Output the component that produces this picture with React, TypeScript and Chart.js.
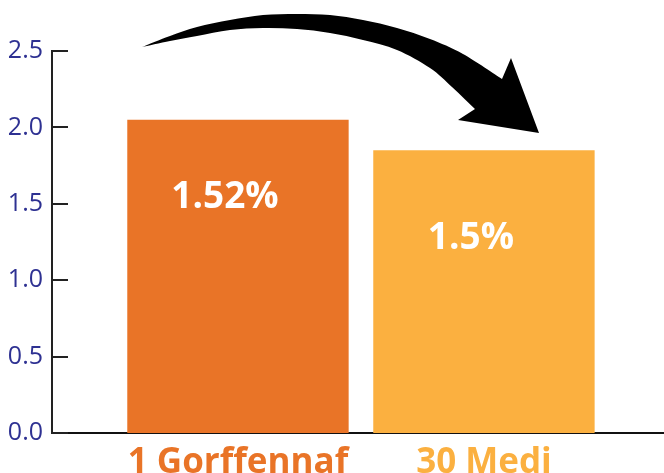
import React, { useEffect, useRef } from 'react';
import { Chart, registerables } from 'chart.js';

Chart.register(...registerables);

const categories = ['1 Gorffennaf', '30 Medi'];
const values = [2.05, 1.85];
const valueLabels = ['1.52%', '1.5%'];
const barColors = ['#E97427', '#FBB040'];
const yTickValues = [0, 0.5, 1, 1.5, 2, 2.5];
const xRange = [-0.756, 1.732];

const insideTicks = {
  id: 'insideTicks',
  afterDraw(chart: any) {
    const { ctx, chartArea, scales } = chart;
    const y = scales.y;
    ctx.save();
    ctx.strokeStyle = '#222';
    ctx.lineWidth = 2;
    yTickValues.forEach((v) => {
      const py = Math.round(y.getPixelForValue(v));
      ctx.beginPath();
      ctx.moveTo(chartArea.left, py);
      ctx.lineTo(chartArea.left + 16, py);
      ctx.stroke();
    });
    ctx.restore();
  },
};

const valueLabelPlugin = {
  id: 'valueLabels',
  afterDatasetsDraw(chart: any) {
    const { ctx } = chart;
    const meta = chart.getDatasetMeta(0);
    const dy = [78, 88];
    ctx.save();
    ctx.font = 'bold 37px "Open Sans"';
    ctx.fillStyle = '#ffffff';
    ctx.textAlign = 'center';
    ctx.textBaseline = 'middle';
    meta.data.forEach((bar: any, i: number) => {
      ctx.fillText(valueLabels[i], bar.x - 13, bar.y + dy[i]);
    });
    ctx.restore();
  },
};

function smoothThrough(ctx: any, pts: number[][], first: boolean) {
  if (first) ctx.moveTo(pts[0][0], pts[0][1]);
  else ctx.lineTo(pts[0][0], pts[0][1]);
  for (let i = 0; i < pts.length - 1; i++) {
    const p0 = pts[Math.max(0, i - 1)];
    const p1 = pts[i];
    const p2 = pts[i + 1];
    const p3 = pts[Math.min(pts.length - 1, i + 2)];
    ctx.bezierCurveTo(
      p1[0] + (p2[0] - p0[0]) / 6,
      p1[1] + (p2[1] - p0[1]) / 6,
      p2[0] - (p3[0] - p1[0]) / 6,
      p2[1] - (p3[1] - p1[1]) / 6,
      p2[0],
      p2[1]
    );
  }
}

const arrowPlugin = {
  id: 'arrow',
  afterDraw(chart: any) {
    const { ctx } = chart;
    const upper = [
      [142, 47], [170, 36], [197, 27], [230, 20], [263, 15], [297, 14], [330, 15],
      [363, 20], [397, 28], [430, 39], [463, 54], [502, 79],
    ];
    const lower = [
      [475, 109], [452, 87], [430, 68], [397, 50], [363, 40], [330, 33], [297, 29],
      [263, 28], [230, 30], [197, 36], [170, 41], [142, 47],
    ];
    ctx.save();
    ctx.fillStyle = '#000';
    ctx.beginPath();
    smoothThrough(ctx, upper, true);
    ctx.lineTo(511, 58);
    ctx.lineTo(539, 133);
    ctx.lineTo(458, 120);
    smoothThrough(ctx, lower, false);
    ctx.closePath();
    ctx.fill();
    ctx.restore();
  },
};

export default function App() {
  const ref = useRef<HTMLCanvasElement>(null);
  useEffect(() => {
    if (!ref.current) return;
    const chart = new Chart(ref.current, {
      type: 'bar',
      data: {
        datasets: [
          {
            data: values.map((v, i) => ({ x: i, y: v })),
            backgroundColor: barColors,
            borderWidth: 0,
            categoryPercentage: 1,
            barPercentage: 0.9,
          },
        ],
      },
      options: {
        responsive: false,
        animation: false,
        events: [],
        layout: { padding: { top: 51, left: 0, right: 0, bottom: 0 } },
        plugins: { legend: { display: false }, tooltip: { enabled: false } },
        scales: {
          x: {
            type: 'linear',
            bounds: 'data',
            offset: false,
            min: xRange[0],
            max: xRange[1],
            afterDataLimits: (scale: any) => {
              scale.min = xRange[0];
              scale.max = xRange[1];
            },
            afterBuildTicks: (scale: any) => {
              scale.ticks = categories.map((_, i) => ({ value: i }));
              scale.min = xRange[0];
              scale.max = xRange[1];
            },
            afterFit: (scale: any) => {
              scale.height = 40;
              scale.paddingLeft = 0;
              scale.paddingRight = 0;
            },
            grid: { display: false, drawTicks: false, offset: false },
            border: { display: true, color: '#111', width: 2 },
            ticks: {
              autoSkip: false,
              maxRotation: 0,
              padding: 9,
              callback: (v: any) => categories[Number(v)] ?? '',
              color: (c: any) => barColors[c.index] ?? '#000',
              font: { family: '"Open Sans"', size: 35, weight: 'bold' },
            },
          },
          y: {
            min: 0,
            max: 2.5,
            afterBuildTicks: (scale: any) => {
              scale.ticks = yTickValues.map((v) => ({ value: v }));
            },
            afterFit: (scale: any) => {
              scale.width = 52;
            },
            grid: { display: false, drawTicks: false },
            border: { display: true, color: '#222', width: 2 },
            ticks: {
              padding: 9,
              color: '#2E3192',
              callback: (v: any) => Number(v).toFixed(1),
              font: { family: '"Open Sans"', size: 25 },
            },
          },
        },
      } as any,
      plugins: [insideTicks, valueLabelPlugin, arrowPlugin],
    });
    return () => chart.destroy();
  }, []);
  return (
    <div style={{ position: 'fixed', left: 0, top: 0, width: 664, height: 473, background: '#fff' }}>
      <canvas ref={ref} width={664} height={473} />
    </div>
  );
}
